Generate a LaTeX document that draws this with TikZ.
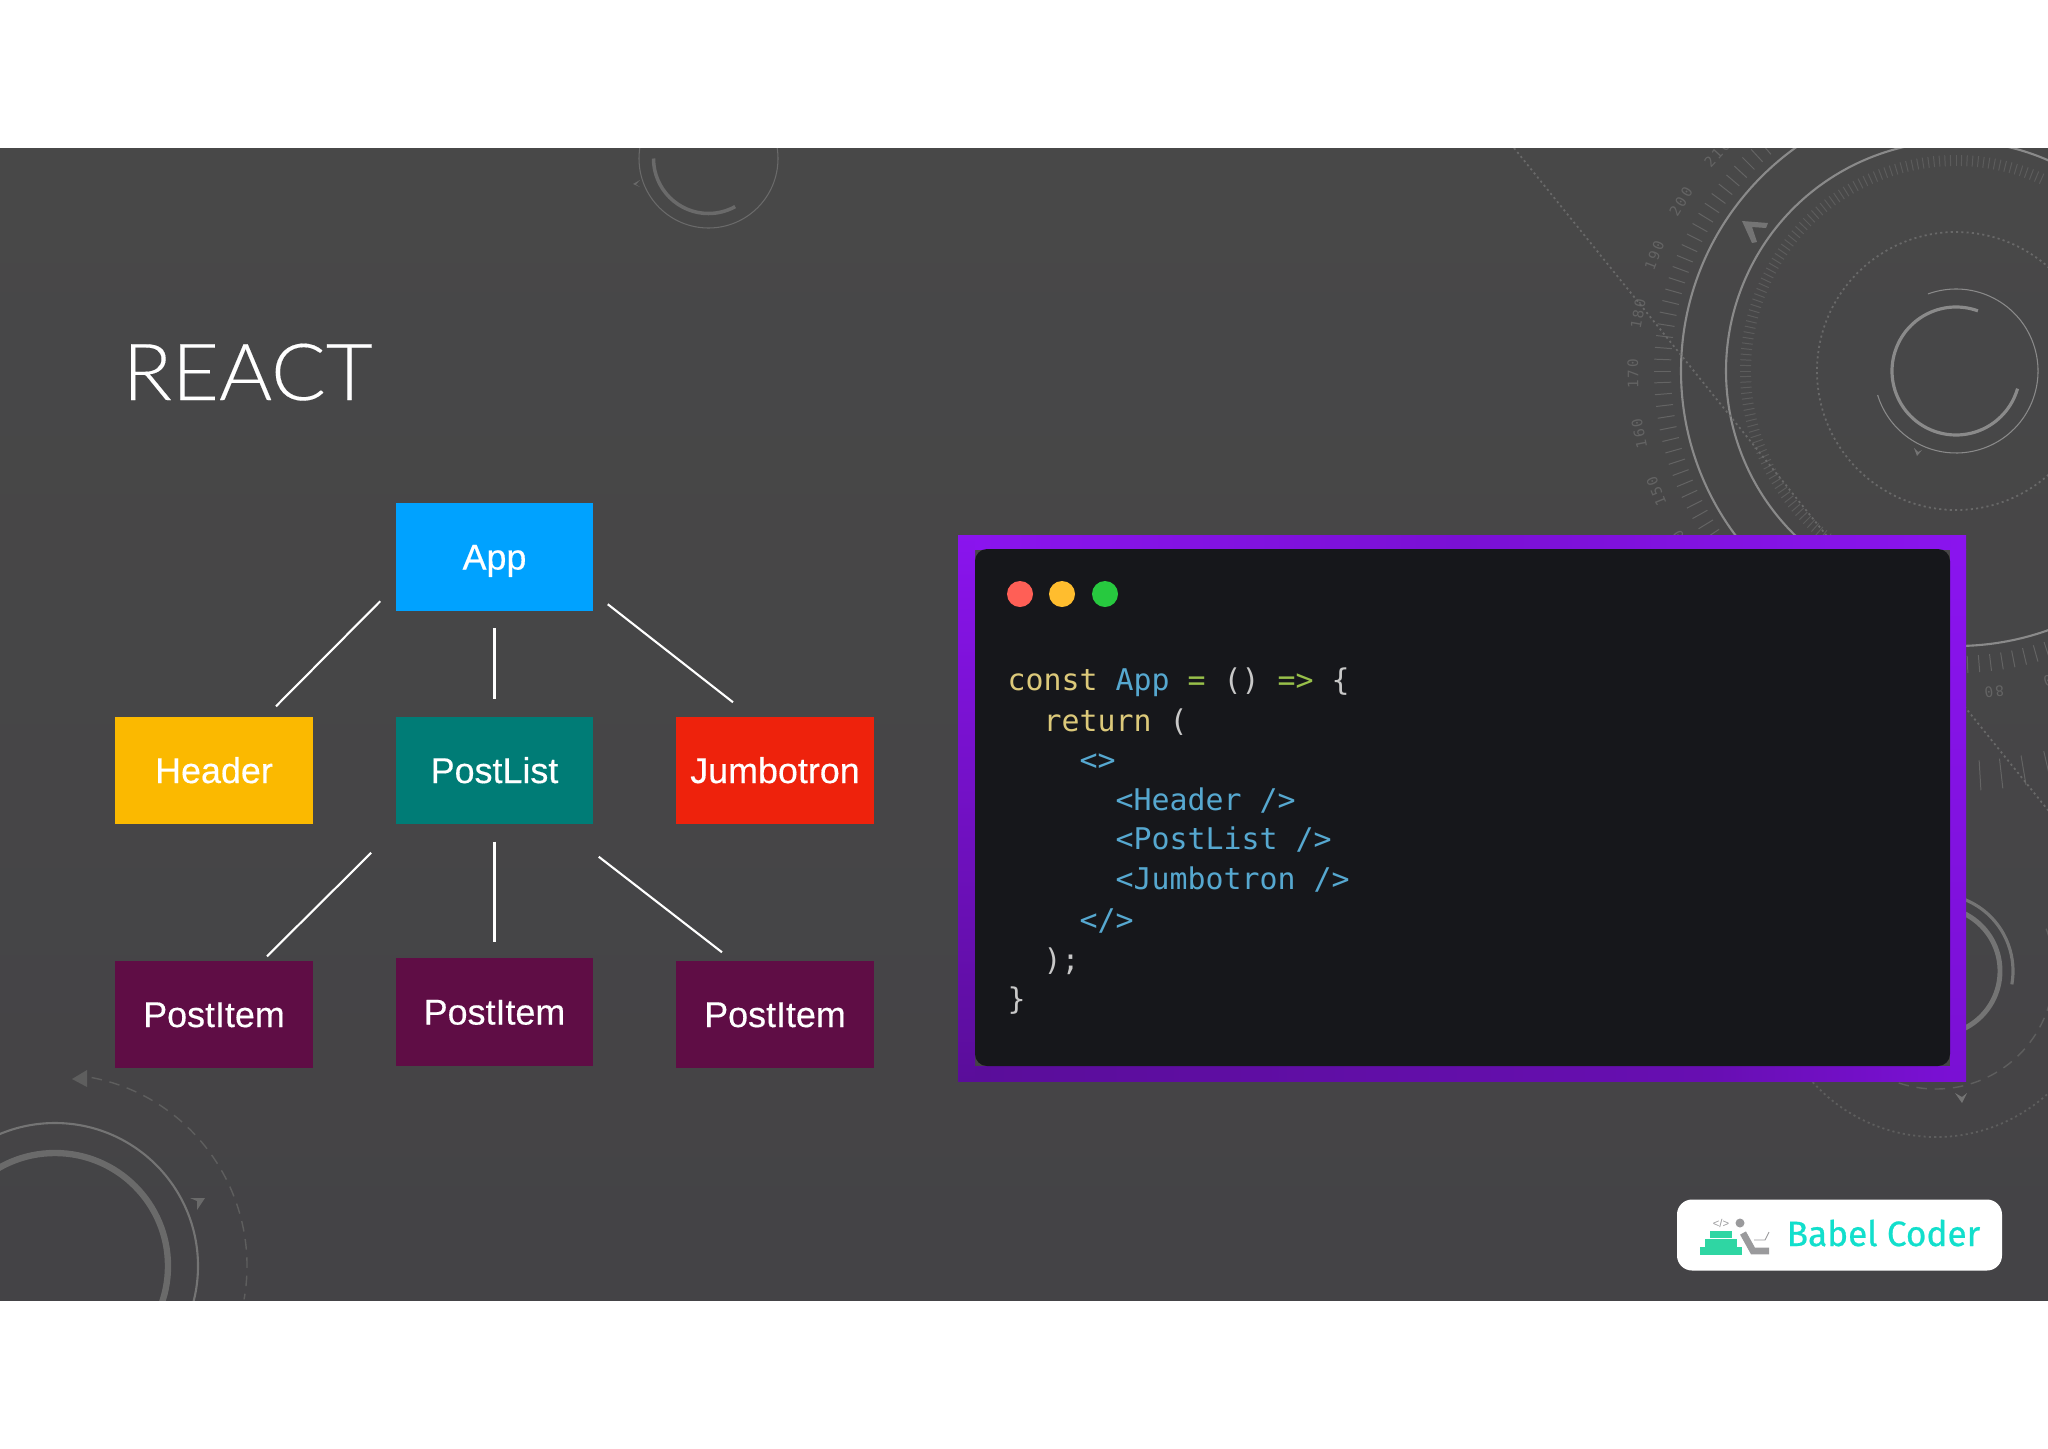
\documentclass[tikz,border=0pt]{standalone}
\usepackage{fontspec}
\usetikzlibrary{calc}
\setmainfont{Liberation Sans}
\newfontfamily\labelfont[FakeBold=0.4]{Liberation Sans}
\newfontfamily\titlefont[FakeBold=0.15]{Lato Light}
\newfontfamily\codefont{DejaVu Sans Mono}
\newfontfamily\scalefont[LetterSpace=15]{DejaVu Sans Mono}
\newfontfamily\brandfont[FakeBold=0.7]{Fira Sans}
\definecolor{bgtop}{HTML}{484848}
\definecolor{bgbot}{HTML}{444346}
\definecolor{cApp}{HTML}{00A2FF}
\definecolor{cHeader}{HTML}{FBB900}
\definecolor{cList}{HTML}{007C76}
\definecolor{cJumbo}{HTML}{EE220C}
\definecolor{cItem}{HTML}{5F0D45}
\definecolor{codebg}{HTML}{16171B}
\definecolor{cY}{HTML}{DCC97A}
\definecolor{cB}{HTML}{56A8D0}
\definecolor{cG}{HTML}{98C04A}
\definecolor{cW}{HTML}{C8C8C8}
\definecolor{pA}{HTML}{8A14EE}
\definecolor{pB}{HTML}{7A10D4}
\definecolor{pC}{HTML}{5A0D9A}
\definecolor{brand}{HTML}{12DFCC}
\definecolor{leaf}{HTML}{2FD6A3}
\definecolor{lgray}{HTML}{9A9A9C}
\definecolor{ringA}{HTML}{8A8A8A}
\definecolor{ringB}{HTML}{747474}
\definecolor{ringC}{HTML}{6A6A6A}
\definecolor{tickA}{HTML}{646464}
\definecolor{tickB}{HTML}{5C5C5C}
\definecolor{dotA}{HTML}{696969}
\definecolor{dashA}{HTML}{5E5E5E}
\definecolor{lampR}{HTML}{FF5F56}
\definecolor{lampY}{HTML}{FFBD2E}
\definecolor{lampG}{HTML}{27C93F}
\tikzset{
  compbox/.style={minimum width=1.97cm,minimum height=1.07cm,inner sep=0pt,text=white,
    font=\labelfont\fontsize{10.2}{12}\selectfont,text height=0.25cm,text depth=0pt},
  link/.style={draw=white,line width=0.6pt},
  codeline/.style={anchor=base west,inner sep=0pt,font=\codefont\fontsize{8.5}{10}\selectfont},
  dotline/.style={line width=0.5pt,dash pattern=on 0.6pt off 0.9pt,draw=dotA},
  dashline/.style={line width=0.4pt,dash pattern=on 3pt off 2.2pt,draw=dashA},
  tick/.style={line width=0.28pt},
  scalelabel/.style={inner sep=0pt,text=tickA,font=\scalefont\fontsize{4.1}{5}\selectfont},
  lamp/.style={circle,minimum size=0.26cm,inner sep=0pt}
}
\begin{document}
\begin{tikzpicture}[x=0.01cm,y=-0.01cm]
\useasboundingbox (0,0) rectangle (2048,1448);
\fill[white] (0,0) rectangle (2048,1448);
\shade[top color=bgtop,bottom color=bgbot] (0,148) rectangle (2048,1300);

\begin{scope}
\clip (0,148) rectangle (2048,1300);
% big dial, upper right
\begin{scope}[shift={(1956,371)},x=0.01cm,y=0.01cm]
  \draw[line width=0.6pt,draw=ringA] (0,0) circle[radius=275];
  \draw[line width=0.6pt,draw=ringA] (66:230) arc[start angle=66,end angle=270,radius=230];
  \draw[dotline] (0,0) circle[radius=139];
  \draw[line width=0.3pt,draw=ringA] (110:82) arc[start angle=110,end angle=-163,radius=82];
  \draw[line width=0.9pt,draw=ringA] (70:64) arc[start angle=70,end angle=344,radius=64];
  \foreach \a in {0,2.25,...,357.75} {\draw[tick,draw=tickA] (\a:285) -- (\a:302);}
  \foreach \a in {66,67.5,...,270} {\draw[tick,draw=tickB] (\a:205) -- (\a:216);}
  \foreach \v in {70,80,...,210} {
    \pgfmathsetmacro{\t}{180.5-(\v-170)*1.07}
    \pgfmathsetmacro{\r}{\t-90}
    \node[scalelabel,rotate=\r] (lab\v) at (\t:323) {\v};
  }
  \foreach \a in {273.4,276.4,279.6,283} {\draw[tick,draw=tickA] (\a:390) -- (\a:420);}
\end{scope}
\fill[ringB] (1742,221) -- (1768,223) -- (1766,228) -- (1752,227) -- (1757,242) -- (1752,243) -- cycle;
\fill[ringB] (1914,448) -- (1918,452) -- (1922,450) -- (1917,456) -- cycle;
\draw[dotline] (1514,148) -- (2060,825);
% dial, lower left
\begin{scope}[shift={(55,1266)},x=0.01cm,y=0.01cm]
  \draw[line width=0.6pt,draw=ringB] (0,0) circle[radius=143];
  \draw[line width=1.8pt,draw=ringC] (0,0) circle[radius=113];
  \draw[dashline] (79:192) arc[start angle=79,end angle=-10,radius=192];
\end{scope}
\fill[dashA] (72,1079) -- (87,1070) -- (87,1087) -- cycle;
\fill[ringC] (190,1198) -- (205,1198) -- (197,1210) -- (197,1201) -- cycle;
% dial, top
\begin{scope}[shift={(708.5,158.5)},x=0.01cm,y=0.01cm]
  \draw[line width=0.3pt,draw=ringC] (0,0) circle[radius=69.5];
  \draw[line width=1pt,draw=ringC] (180:55) arc[start angle=180,end angle=299,radius=55];
\end{scope}
\fill[ringC] (633,184) -- (640,180) -- (636,184.5) -- (640,187) -- cycle;
% dial, lower right
\begin{scope}[shift={(1936,971)},x=0.01cm,y=0.01cm]
  \draw[line width=1.4pt,draw=ringB] (0,0) circle[radius=64];
  \draw[line width=0.9pt,draw=ringB] (110:77) arc[start angle=110,end angle=-10,radius=77];
  \draw[dashline] (21:118) arc[start angle=21,end angle=-160,radius=118];
  \draw[dotline,draw=dashA] (-8:166) arc[start angle=-8,end angle=-150,radius=166];
\end{scope}
\fill[ringB] (1955,1093) -- (1962,1097) -- (1967,1093) -- (1962,1103) -- cycle;
\end{scope}

% title
\node[anchor=base west,inner sep=0pt,text=white,xscale=1.03] (title) at (122,400)
  {\titlefont\fontsize{22.4}{26}\selectfont REACT};

% component tree
\node[compbox,fill=cApp] (app) at (494.5,557) {App};
\node[compbox,fill=cHeader] (header) at (214,770.5) {Header};
\node[compbox,fill=cList] (postlist) at (494.5,770.5) {PostList};
\node[compbox,fill=cJumbo] (jumbotron) at (775,770.5) {Jumbotron};
\node[compbox,fill=cItem] (itemA) at (214,1014.5) {PostItem};
\node[compbox,fill=cItem] (itemB) at (494.5,1012) {PostItem};
\node[compbox,fill=cItem] (itemC) at (775,1014.5) {PostItem};
\draw[link] ($(app.south west)+(-15,-10)$) -- ($(header.north)+(62,-10)$);
\draw[link] ($(app.south)+(0,17)$) -- ($(postlist.north)+(0,-17)$);
\draw[link] ($(app.south east)+(14,-7)$) -- ($(jumbotron.north)+(-42,-14)$);
\draw[link] ($(postlist.south west)+(-24,28)$) -- ($(itemA.north)+(53,-4)$);
\draw[link] ($(postlist.south)+(0,17)$) -- ($(itemB.north)+(0,-16)$);
\draw[link] ($(postlist.south east)+(5,32)$) -- ($(itemC.north)+(-53,-8)$);

% code panel
\shade[top color=pA,bottom color=pC,shading angle=0] (958,535) rectangle (975,1081);
\shade[left color=pA,right color=pB] (975,535) rectangle (1461,549);
\shade[left color=pB,right color=pA] (1461,535) rectangle (1966,549);
\shade[top color=pA,bottom color=pB] (1950,549) rectangle (1966,1081);
\shade[left color=pC,right color=pC!60!pB] (975,1066) rectangle (1700,1081);
\shade[left color=pC!60!pB,right color=pB] (1700,1066) rectangle (1950,1081);
\fill[codebg,rounded corners=0.12cm] (975,549) rectangle (1950,1066);
\node[lamp,fill=lampR] (lightR) at (1020,594) {};
\node[lamp,fill=lampY] (lightY) at (1062,594) {};
\node[lamp,fill=lampG] (lightG) at (1105,594) {};
\node[codeline] (c1) at (1007,690) {\textcolor{cY}{const} \textcolor{cB}{App} \textcolor{cG}{=} \textcolor{cW}{()} \textcolor{cG}{=>} \textcolor{cW}{\{}};
\node[codeline] (c2) at (1043,731.5) {\textcolor{cY}{return} \textcolor{cW}{(}};
\node[codeline,text=cB] (c3) at (1079,770.5) {<>};
\node[codeline,text=cB] (c4) at (1115,810.5) {<Header />};
\node[codeline,text=cB] (c5) at (1115,849.5) {<PostList />};
\node[codeline,text=cB] (c6) at (1115,889.5) {<Jumbotron />};
\node[codeline,text=cB] (c7) at (1079,930) {</>};
\node[codeline,text=cW] (c8) at (1043,970) {);};
\node[codeline,text=cW] (c9) at (1007,1009.5) {\}};

% brand tag
\fill[white,rounded corners=0.15cm] (1677,1199.5) rectangle (2002,1270.5);
\fill[leaf] (1700,1247) rectangle (1742,1255);
\fill[leaf] (1705,1239) rectangle (1737,1247);
\fill[leaf] (1710,1231) rectangle (1732,1238);
\node[inner sep=0pt,text=lgray,font=\fontsize{3.2}{4}\selectfont] (tagcode) at (1721,1223) {</>};
\fill[lgray] (1740,1223) circle[radius=4.5];
\draw[lgray,line width=1.9pt] (1743,1233) -- (1753,1251) -- (1769,1251);
\draw[lgray,line width=0.25pt] (1754,1240) -- (1765,1240) -- (1769,1232);
\node[anchor=base west,inner sep=0pt,text=brand] (brandname) at (1786,1246)
  {\brandfont\fontsize{10}{12}\selectfont Babel Coder};
\end{tikzpicture}
\end{document}
